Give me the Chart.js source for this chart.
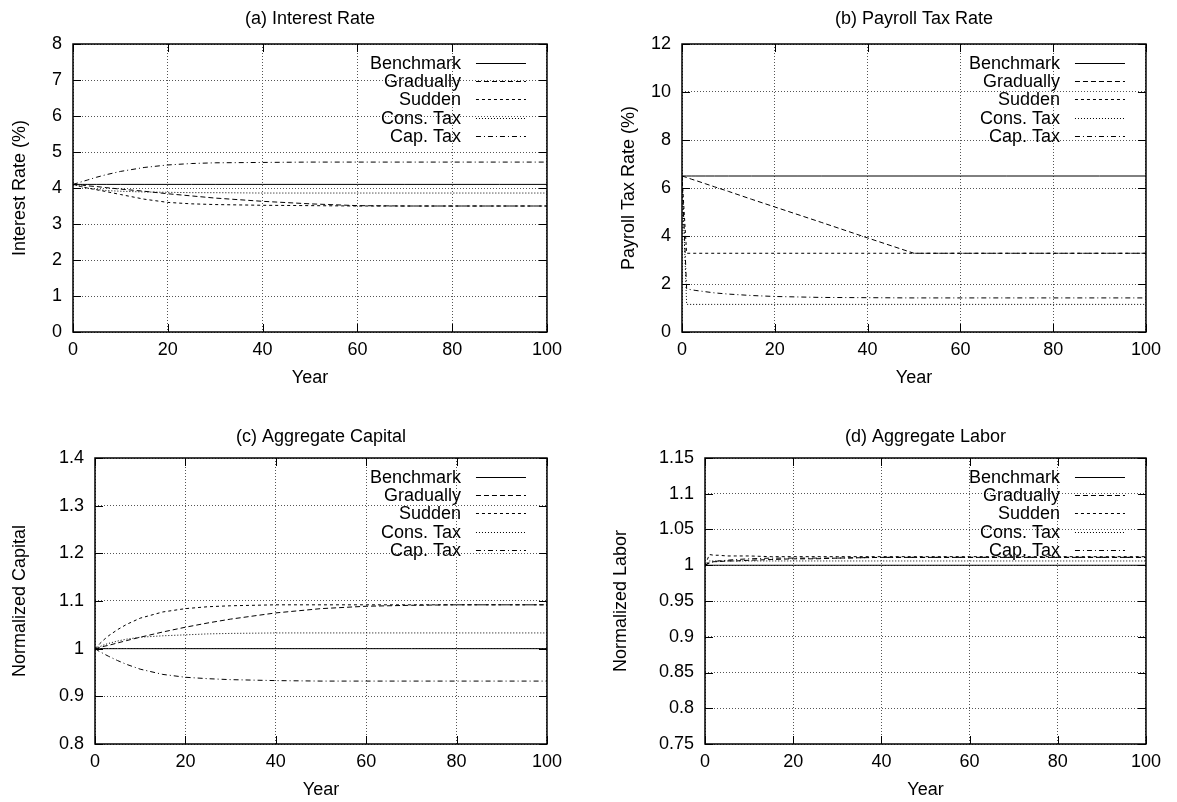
<!DOCTYPE html>
<html lang="en">
<head>
<meta charset="UTF-8">
<title>Transition Paths</title>
<script src="https://cdn.jsdelivr.net/npm/chart.js"></script>
<style>
  body { margin: 0; background: #fff; width: 1177px; height: 802px; position: relative; overflow: hidden; }
  canvas { position: absolute; }
</style>
</head>
<body>
<canvas id="chartA"></canvas>
<canvas id="chartB"></canvas>
<canvas id="chartC"></canvas>
<canvas id="chartD"></canvas>

<script>
const years = [0, 1, 2, 3, 5, 7, 10, 15, 20, 25, 30, 40, 50, 60, 70, 80, 90, 100];
const seriesNames = ['Benchmark', 'Gradually', 'Sudden', 'Cons. Tax', 'Cap. Tax'];
const yearTicks = [0, 20, 40, 60, 80, 100];

// (a) interest rate, %
const rateTicks = [0, 1, 2, 3, 4, 5, 6, 7, 8];
const rateBenchmark = [4.10, 4.10, 4.10, 4.10, 4.10, 4.10, 4.10, 4.10, 4.10, 4.10, 4.10, 4.10, 4.10, 4.10, 4.10, 4.10, 4.10, 4.10];
const rateGradually = [4.10, 4.09, 4.08, 4.06, 4.04, 4.01, 3.97, 3.91, 3.84, 3.78, 3.72, 3.63, 3.56, 3.51, 3.50, 3.50, 3.50, 3.50];
const rateSudden    = [4.10, 4.07, 4.03, 4.00, 3.95, 3.90, 3.82, 3.69, 3.60, 3.56, 3.54, 3.52, 3.51, 3.50, 3.50, 3.50, 3.50, 3.50];
const rateConsTax   = [4.10, 4.06, 4.03, 4.00, 3.96, 3.93, 3.91, 3.89, 3.88, 3.87, 3.87, 3.86, 3.86, 3.86, 3.86, 3.86, 3.86, 3.86];
const rateCapTax    = [4.10, 4.14, 4.18, 4.22, 4.30, 4.37, 4.46, 4.57, 4.64, 4.68, 4.70, 4.71, 4.72, 4.72, 4.72, 4.72, 4.72, 4.72];

// (b) payroll tax rate, %
const payTicks = [0, 2, 4, 6, 8, 10, 12];
const payBenchmark = [6.50, 6.50, 6.50, 6.50, 6.50, 6.50, 6.50, 6.50, 6.50, 6.50, 6.50, 6.50, 6.50, 6.50, 6.50, 6.50, 6.50, 6.50];
const payGradually = [6.50, 6.44, 6.37, 6.31, 6.18, 6.05, 5.86, 5.53, 5.21, 4.89, 4.57, 3.92, 3.28, 3.28, 3.28, 3.28, 3.28, 3.28];
const paySudden    = [6.50, 3.28, 3.28, 3.28, 3.28, 3.28, 3.28, 3.28, 3.28, 3.28, 3.28, 3.28, 3.28, 3.28, 3.28, 3.28, 3.28, 3.28];
const payConsTax   = [6.50, 1.15, 1.15, 1.15, 1.15, 1.15, 1.15, 1.15, 1.15, 1.15, 1.15, 1.15, 1.15, 1.15, 1.15, 1.15, 1.15, 1.15];
const payCapTax    = [6.50, 1.80, 1.76, 1.73, 1.68, 1.63, 1.58, 1.52, 1.48, 1.46, 1.44, 1.43, 1.42, 1.42, 1.42, 1.42, 1.42, 1.42];

// (c) aggregate capital, normalized
const capTicks = [0.8, 0.9, 1, 1.1, 1.2, 1.3, 1.4];
const capBenchmark = [1.000, 1.000, 1.000, 1.000, 1.000, 1.000, 1.000, 1.000, 1.000, 1.000, 1.000, 1.000, 1.000, 1.000, 1.000, 1.000, 1.000, 1.000];
const capGradually = [1.000, 1.002, 1.005, 1.007, 1.012, 1.017, 1.024, 1.035, 1.045, 1.054, 1.062, 1.075, 1.084, 1.089, 1.091, 1.092, 1.092, 1.092];
const capSudden    = [1.000, 1.010, 1.019, 1.027, 1.040, 1.051, 1.064, 1.077, 1.084, 1.088, 1.090, 1.092, 1.092, 1.092, 1.092, 1.092, 1.092, 1.092];
const capConsTax   = [1.000, 1.004, 1.008, 1.011, 1.016, 1.020, 1.024, 1.027, 1.029, 1.031, 1.032, 1.033, 1.033, 1.033, 1.033, 1.033, 1.033, 1.033];
const capCapTax    = [1.000, 0.994, 0.989, 0.984, 0.975, 0.967, 0.957, 0.946, 0.940, 0.937, 0.935, 0.933, 0.932, 0.932, 0.932, 0.932, 0.932, 0.932];

// (d) aggregate labor, normalized
const labTicks = [0.75, 0.8, 0.85, 0.9, 0.95, 1, 1.05, 1.1, 1.15];
const labBenchmark = [1.000, 1.000, 1.000, 1.000, 1.000, 1.000, 1.000, 1.000, 1.000, 1.000, 1.000, 1.000, 1.000, 1.000, 1.000, 1.000, 1.000, 1.000];
const labGradually = [1.000, 1.004, 1.005, 1.005, 1.006, 1.006, 1.007, 1.008, 1.009, 1.009, 1.010, 1.011, 1.011, 1.011, 1.011, 1.011, 1.011, 1.011];
const labSudden    = [1.000, 1.015, 1.014, 1.014, 1.013, 1.013, 1.013, 1.012, 1.012, 1.012, 1.012, 1.012, 1.012, 1.012, 1.012, 1.012, 1.012, 1.012];
const labConsTax   = [1.000, 1.006, 1.006, 1.006, 1.006, 1.006, 1.006, 1.006, 1.006, 1.006, 1.006, 1.006, 1.006, 1.006, 1.006, 1.006, 1.006, 1.006];
const labCapTax    = [1.000, 1.003, 1.005, 1.006, 1.007, 1.008, 1.009, 1.010, 1.010, 1.010, 1.010, 1.011, 1.011, 1.011, 1.011, 1.011, 1.011, 1.011];

const dashes = [[], [5, 3], [3, 3], [1, 2], [5, 3, 1, 3]];

Chart.defaults.font.family = "'Liberation Sans', Arial, sans-serif";
Chart.defaults.font.size = 18;
Chart.defaults.color = '#000';

// plot frame, inward ticks and gnuplot-style key
const framePlugin = {
  id: 'frame',
  afterDraw(chart) {
    const { ctx, chartArea: a, scales: { x, y } } = chart;
    ctx.save();
    ctx.strokeStyle = '#000';
    ctx.lineWidth = 1;
    ctx.setLineDash([]);
    ctx.beginPath();
    x.ticks.forEach(t => {
      const px = Math.round(x.getPixelForValue(t.value)) + 0.5;
      ctx.moveTo(px, a.bottom); ctx.lineTo(px, a.bottom - 8);
      ctx.moveTo(px, a.top); ctx.lineTo(px, a.top + 8);
    });
    y.ticks.forEach(t => {
      const py = Math.round(y.getPixelForValue(t.value)) + 0.5;
      ctx.moveTo(a.left, py); ctx.lineTo(a.left + 8, py);
      ctx.moveTo(a.right, py); ctx.lineTo(a.right - 8, py);
    });
    ctx.stroke();
    ctx.lineWidth = 1.5;
    ctx.strokeRect(a.left, a.top, a.right - a.left, a.bottom - a.top);

    ctx.font = "18px 'Liberation Sans', Arial, sans-serif";
    ctx.fillStyle = '#000';
    ctx.textAlign = 'right';
    ctx.textBaseline = 'middle';
    ctx.lineWidth = 1;
    chart.data.datasets.forEach((ds, i) => {
      const ly = Math.round(a.top + 18.7 + i * 18.3) + 0.5;
      ctx.fillText(ds.label, a.right - 86, ly + 1);
      ctx.setLineDash(ds.borderDash);
      ctx.beginPath();
      ctx.moveTo(a.right - 71, ly);
      ctx.lineTo(a.right - 21, ly);
      ctx.stroke();
    });
    ctx.restore();
  }
};

function makePanel(id, g, title, yTitle, yTicks, series) {
  const canvas = document.getElementById(id);
  const cLeft = Math.round(g.ylabX - 10.8);
  const cTop = g.titleY - 19;
  const cBottom = Math.round(g.xlabY + 10.8);
  canvas.width = g.R + 20 - cLeft;
  canvas.height = cBottom - cTop;
  canvas.style.left = cLeft + 'px';
  canvas.style.top = cTop + 'px';

  new Chart(canvas, {
    type: 'line',
    data: {
      datasets: series.map((vals, i) => ({
        label: seriesNames[i],
        data: years.map((yr, k) => ({ x: yr, y: vals[k] })),
        borderColor: '#000',
        borderWidth: 1,
        borderDash: dashes[i],
        pointRadius: 0,
        tension: 0,
        fill: false
      }))
    },
    options: {
      responsive: false,
      animation: false,
      layout: { padding: { left: 0, right: 20, top: 0, bottom: 0 } },
      plugins: {
        legend: { display: false },
        tooltip: { enabled: false },
        title: {
          display: true,
          text: title,
          fullSize: false,
          font: { size: 18, weight: 'normal' },
          padding: { top: 8.2, bottom: g.T - cTop - 29.8 }
        }
      },
      scales: {
        x: {
          type: 'linear',
          min: 0,
          max: 100,
          afterBuildTicks: s => { s.ticks = yearTicks.map(v => ({ value: v })); },
          afterFit: s => { s.height = cBottom - g.B; },
          ticks: { padding: 7, maxRotation: 0, callback: v => String(v) },
          grid: { color: '#555', lineWidth: 1, drawTicks: false },
          border: { display: false, dash: [1, 2] },
          title: { display: true, text: 'Year', padding: 0 }
        },
        y: {
          type: 'linear',
          min: yTicks[0],
          max: yTicks[yTicks.length - 1],
          afterBuildTicks: s => { s.ticks = yTicks.map(v => ({ value: v })); },
          afterFit: s => { s.width = g.L - cLeft; },
          ticks: { padding: 11, callback: v => String(+v.toFixed(2)) },
          grid: { color: '#555', lineWidth: 1, drawTicks: false },
          border: { display: false, dash: [1, 2] },
          title: { display: true, text: yTitle, padding: 0 }
        }
      }
    },
    plugins: [framePlugin]
  });
}

makePanel('chartA', { L: 73, R: 549, T: 44, B: 332, titleY: 19, ylabX: 20, xlabY: 378 },
  '(a) Interest Rate', 'Interest Rate (%)', rateTicks,
  [rateBenchmark, rateGradually, rateSudden, rateConsTax, rateCapTax]);
makePanel('chartB', { L: 682, R: 1148, T: 44, B: 332, titleY: 19, ylabX: 629, xlabY: 378 },
  '(b) Payroll Tax Rate', 'Payroll Tax Rate (%)', payTicks,
  [payBenchmark, payGradually, paySudden, payConsTax, payCapTax]);
makePanel('chartC', { L: 95, R: 549, T: 458, B: 744, titleY: 437, ylabX: 20, xlabY: 790 },
  '(c) Aggregate Capital', 'Normalized Capital', capTicks,
  [capBenchmark, capGradually, capSudden, capConsTax, capCapTax]);
makePanel('chartD', { L: 705, R: 1148, T: 458, B: 744, titleY: 437, ylabX: 621, xlabY: 790 },
  '(d) Aggregate Labor', 'Normalized Labor', labTicks,
  [labBenchmark, labGradually, labSudden, labConsTax, labCapTax]);
</script>
</body>
</html>
